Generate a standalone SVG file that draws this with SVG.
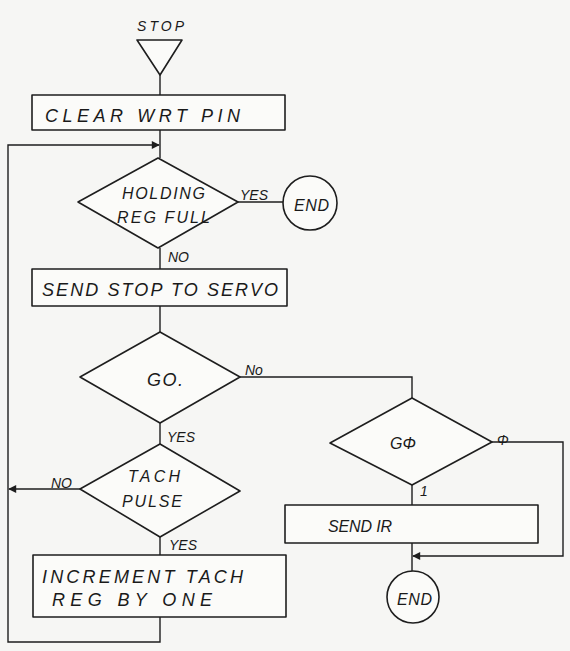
<svg xmlns="http://www.w3.org/2000/svg" width="570" height="651" viewBox="0 0 570 651">
<style>
.f{fill:#fbfbf9;stroke:#1e1e1e;stroke-width:1.6;stroke-linejoin:round}
.c{fill:none;stroke:#1e1e1e;stroke-width:1.4}
text{font-family:"Liberation Sans",Arial,sans-serif;font-style:italic;fill:#1a1a1a;font-size:18px}
.l{font-size:14px}
.d{font-size:16px}
</style>
<defs>
<marker id="ah" viewBox="0 0 10 10" refX="9" refY="5" markerWidth="9" markerHeight="8" orient="auto" markerUnits="userSpaceOnUse"><path d="M0,0 L10,5 L0,10 z" fill="#1e1e1e"/></marker>
</defs>
<rect width="570" height="651" fill="#f6f6f4"/>
<g id="connectors">
<path class="c" d="M160,75 V95"/>
<path class="c" d="M160,130 V158"/>
<path class="c" d="M238,202 H283"/>
<path class="c" d="M160,248 V269"/>
<path class="c" d="M160,306 V332"/>
<path class="c" d="M240,377 H412 V398"/>
<path class="c" d="M160,423 V444"/>
<path class="c" d="M80,489 H9" marker-end="url(#ah)"/>
<path class="c" d="M160,537 V555"/>
<path class="c" d="M160,617 V642 H8 V145 H159" marker-end="url(#ah)"/>
<path class="c" d="M492,442 H563 V556 H413" marker-end="url(#ah)"/>
<path class="c" d="M412,485 V505"/>
<path class="c" d="M412,543 V571"/>
<text x="240" y="200" class="l">YES</text>
<text x="168" y="262" class="l">NO</text>
<text x="245" y="375" class="l">No</text>
<text x="167" y="442" class="l">YES</text>
<text x="51" y="488" class="l">NO</text>
<text x="169" y="550" class="l">YES</text>
<text x="497" y="445" class="l">Φ</text>
<text x="420" y="496" class="l">1</text>
</g>
<g id="stop"><path class="f" d="M137,40 H182 L160,75 Z"/><text x="137" y="31" class="l" textLength="47">STOP</text></g>
<g id="clear"><rect class="f" x="32" y="95" width="253" height="35"/><text x="45" y="122" textLength="195">CLEAR WRT PIN</text></g>
<g id="holding"><path class="f" d="M158,158 L238,202 L158,248 L78,202 Z"/><text x="122" y="199" class="d" textLength="83">HOLDING</text><text x="117" y="223" class="d" textLength="93">REG FULL</text></g>
<g id="end1"><circle class="f" cx="310" cy="203" r="27"/><text x="294" y="211" class="d" textLength="35">END</text></g>
<g id="sendstop"><rect class="f" x="32" y="269" width="255" height="37"/><text x="42" y="296" textLength="236">SEND STOP TO SERVO</text></g>
<g id="go"><path class="f" d="M160,332 L240,377 L160,423 L80,377 Z"/><text x="147" y="386" textLength="36">GO.</text></g>
<g id="tach"><path class="f" d="M160,444 L240,491 L160,537 L80,489 Z"/><text x="128" y="482" class="d" textLength="52">TACH</text><text x="122" y="507" class="d" textLength="60">PULSE</text></g>
<g id="increment"><rect class="f" x="33" y="555" width="253" height="62"/><text x="42" y="583" textLength="201">INCREMENT TACH</text><text x="52" y="606" textLength="160">REG BY ONE</text></g>
<g id="go0"><path class="f" d="M412,398 L492,442 L412,485 L330,443 Z"/><text x="390" y="449" class="d">GΦ</text></g>
<g id="sendir"><rect class="f" x="285" y="505" width="253" height="38"/><text x="328" y="532" class="d" textLength="64">SEND IR</text></g>
<g id="end2"><circle class="f" cx="413" cy="597" r="26"/><text x="397" y="605" class="d" textLength="35">END</text></g>
</svg>
